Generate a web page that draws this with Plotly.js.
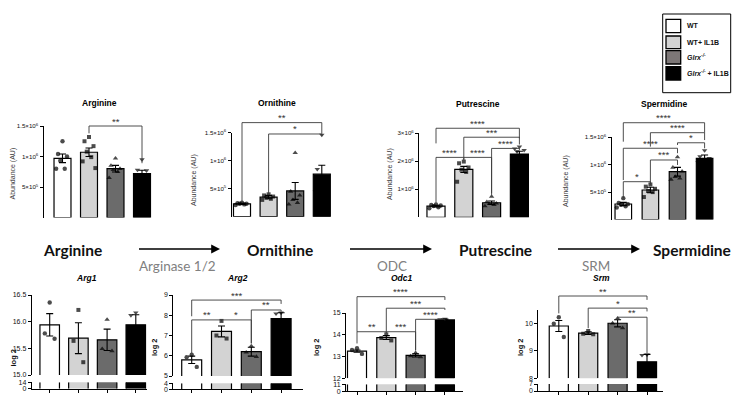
<!DOCTYPE html>
<html><head><meta charset="utf-8">
<script src="https://cdn.plot.ly/plotly-3.0.1.min.js"></script>
<style>html,body{margin:0;padding:0;background:#fff;}#chart{width:735px;height:403px;}</style>
</head><body><div id="chart"></div>
<script>
// ================= DATA =================
const groups = ['WT', 'WT+ IL1B', 'Glrx-/-', 'Glrx-/- + IL1B'];

// --- Arginine (abundance, AU)
const arginineMean = [0.97e6, 1.07e6, 0.80e6, 0.72e6];
const arginineSE   = [0.07e6, 0.07e6, 0.055e6, 0.055e6];
const arginineWT     = [1.25e6, 1.04e6, 1.00e6, 0.93e6, 0.80e6, 0.80e6];
const arginineIL1B   = [1.32e6, 1.25e6, 1.17e6, 1.08e6, 0.99e6, 0.92e6, 0.81e6];
const arginineKO     = [0.97e6, 0.85e6, 0.80e6, 0.78e6, 0.75e6, 0.65e6];
const arginineKOIL1B = [0.95e6, 0.78e6, 0.77e6, 0.65e6, 0.55e6, 0.62e6];
const arginineSig = [[1, 3, 1.5e6, 1.38e6, 0.89e6, '**']];

// --- Ornithine
const ornithineMean = [0.23e6, 0.35e6, 0.46e6, 0.76e6];
const ornithineSE   = [0.01e6, 0.03e6, 0.15e6, 0.16e6];
const ornithineWT     = [0.25e6, 0.24e6, 0.23e6, 0.23e6, 0.22e6, 0.21e6];
const ornithineIL1B   = [0.40e6, 0.38e6, 0.36e6, 0.34e6, 0.32e6, 0.30e6];
const ornithineKO     = [1.14e6, 0.45e6, 0.38e6, 0.30e6, 0.25e6, 0.22e6];
const ornithineKOIL1B = [1.46e6, 0.85e6, 0.70e6, 0.60e6, 0.50e6, 0.45e6];
const ornithineSig = [[0, 3, 1.68e6, 0.26e6, 1.48e6, '**'], [1, 3, 1.477e6, 0.41e6, 1.44e6, '*']];

// --- Putrescine
const putrescineMean = [0.40e6, 1.71e6, 0.52e6, 2.26e6];
const putrescineSE   = [0.03e6, 0.11e6, 0.06e6, 0.10e6];
const putrescineWT     = [0.46e6, 0.44e6, 0.42e6, 0.40e6, 0.36e6, 0.32e6];
const putrescineIL1B   = [1.99e6, 1.93e6, 1.78e6, 1.70e6, 1.62e6, 1.27e6];
const putrescineKO     = [0.74e6, 0.55e6, 0.50e6, 0.48e6, 0.45e6, 0.40e6];
const putrescineKOIL1B = [2.52e6, 2.45e6, 2.40e6, 2.35e6, 2.00e6, 1.85e6];
const putrescineSig = [
  [0, 3, 3.18e6, 2.64e6, 2.82e6, '****'],
  [1, 3, 2.86e6, 2.14e6, 2.60e6, '***'],
  [0, 1, 2.14e6, 0.52e6, 2.05e6, '****'],
  [1, 2, 2.14e6, 2.05e6, 0.80e6, '****'],
  [2, 3, 2.46e6, 0.86e6, 2.40e6, '****']
];

// --- Spermidine
const spermidineMean = [0.283e6, 0.538e6, 0.872e6, 1.117e6];
const spermidineSE   = [0.03e6, 0.05e6, 0.08e6, 0.06e6];
const spermidineWT     = [0.39e6, 0.30e6, 0.28e6, 0.27e6, 0.24e6, 0.22e6];
const spermidineIL1B   = [0.64e6, 0.60e6, 0.56e6, 0.52e6, 0.50e6, 0.41e6];
const spermidineKO     = [1.14e6, 0.95e6, 0.88e6, 0.78e6, 0.75e6, 0.73e6];
const spermidineKOIL1B = [1.26e6, 1.15e6, 1.12e6, 1.08e6, 1.05e6, 1.04e6];
const spermidineSig = [
  [0, 3, 1.766e6, 1.42e6, 1.584e6, '****'],
  [1, 3, 1.584e6, 1.33e6, 1.45e6, '****'],
  [0, 2, 1.30e6, 0.72e6, 1.21e6, '****'],
  [2, 3, 1.40e6, 1.36e6, 1.30e6, '*'],
  [1, 2, 1.086e6, 0.66e6, 0.995e6, '***'],
  [0, 1, 0.69e6, 0.387e6, 0.63e6, '*']
];

// --- Arg1 (log2)
const arg1Mean = [15.94, 15.69, 15.66, 15.94];
const arg1SE   = [0.21, 0.29, 0.20, 0.19];
const arg1WT     = [16.36, 15.78, 15.68];
const arg1IL1B   = [16.22, 15.64, 15.24];
const arg1KO     = [16.04, 15.49, 15.45];
const arg1KOIL1B = [16.17, 16.12, 15.55];
const arg1Sig = [];

// --- Arg2
const arg2Mean = [5.80, 7.20, 6.20, 7.84];
const arg2SE   = [0.18, 0.27, 0.22, 0.28];
const arg2WT     = [6.05, 5.93, 5.45];
const arg2IL1B   = [7.72, 7.00, 6.85];
const arg2KO     = [6.48, 6.17, 5.95];
const arg2KOIL1B = [8.12, 8.08, 7.32];
const arg2Sig = [
  [0, 3, 8.75, 7.95, 8.56, '***'],
  [2, 3, 8.26, 6.60, 8.18, '**'],
  [0, 1, 7.77, 6.12, 7.70, '**'],
  [1, 2, 7.77, 7.70, 6.62, '*']
];

// --- Odc1
const odc1Mean = [13.25, 13.87, 13.05, 14.68];
const odc1SE   = [0.05, 0.09, 0.07, 0.04];
const odc1WT     = [13.38, 13.30, 13.12];
const odc1IL1B   = [14.02, 13.85, 13.74];
const odc1KO     = [13.17, 13.02, 12.98];
const odc1KOIL1B = [14.73, 14.70, 14.62];
const odc1Sig = [
  [0, 3, 15.75, 14.14, 15.60, '****'],
  [1, 3, 15.22, 14.14, 15.14, '***'],
  [2, 3, 14.71, 13.30, 14.66, '****'],
  [0, 1, 14.14, 13.60, 14.07, '**'],
  [1, 2, 14.14, 14.07, 13.27, '***']
];

// --- Srm
const srmMean = [9.90, 9.64, 10.00, 8.60];
const srmSE   = [0.20, 0.05, 0.13, 0.27];
const srmWT     = [10.22, 9.98, 9.50];
const srmIL1B   = [9.72, 9.62, 9.60];
const srmKO     = [10.18, 10.00, 9.83];
const srmKOIL1B = [8.86, 8.84, 8.10];
const srmSig = [
  [0, 3, 10.99, 10.36, 10.85, '**'],
  [1, 3, 10.55, 9.82, 10.43, '*'],
  [2, 3, 10.22, 10.16, 8.91, '**']
];

// tick labels
const abund15Vals = [5e5, 1e6, 1.5e6];
const abund15Text = ['5×10<sup>5</sup>', '1×10<sup>6</sup>', '1.5×10<sup>6</sup>'];
const abund3Vals = [1e6, 2e6, 3e6];
const abund3Text = ['1×10<sup>6</sup>', '2×10<sup>6</sup>', '3×10<sup>6</sup>'];
const arg1Ticks = [15.0, 15.5, 16.0, 16.5];
const arg1TickText = ['15.0', '15.5', '16.0', '16.5'];
const arg1LowTicks = [0, 14];
const arg2Ticks = [5, 6, 7, 8, 9];
const arg2LowTicks = [0, 4];
const odc1Ticks = [12, 13, 14, 15];
const odc1LowTicks = [0, 11];
const srmTicks = [8, 9, 10];
const srmLowTicks = [0, 7];

// pathway
const pathwayMetabolites = ['Arginine', 'Ornithine', 'Putrescine', 'Spermidine'];
const pathwayEnzymes = ['Arginase 1/2', 'ODC', 'SRM'];

// ================= STYLE / LAYOUT =================
const W = 735, H = 403;
const FONT = 'Liberation Sans, Arial, sans-serif';
const PFONT = 'Lato, Open Sans, sans-serif';
const fills = ['#ffffff', '#d3d3d3', '#6b6b6b', '#000000'];
const symbols = ['circle', 'square', 'triangle-up', 'triangle-down'];
const msize = [4.4, 4.0, 4.8, 4.8];
const jitter = [0, -0.17, 0.17, -0.085, 0.085, -0.24, 0.24];

const panels = [
  {title:'Arginine', mean:arginineMean, se:arginineSE, pts:[arginineWT, arginineIL1B, arginineKO, arginineKOIL1B], sig:arginineSig,
   l:43.5, r:158, c0:62.5, step:26.5, bw:0.64, up:{top:126, bot:217.5, range:[0,1.5e6], vals:abund15Vals, text:abund15Text},
   tXY:[99.5,103], ylab:'Abundance (AU)', yXY:[12.5,174]},
  {title:'Ornithine', mean:ornithineMean, se:ornithineSE, pts:[ornithineWT, ornithineIL1B, ornithineKO, ornithineKOIL1B], sig:ornithineSig,
   l:231.5, r:336, c0:242, step:26.6, bw:0.64, up:{top:132.7, bot:216.7, range:[0,1.5e6], vals:abund15Vals, text:abund15Text},
   tXY:[277,103], ylab:'Abundance (AU)', yXY:[194,180]},
  {title:'Putrescine', mean:putrescineMean, se:putrescineSE, pts:[putrescineWT, putrescineIL1B, putrescineKO, putrescineKOIL1B], sig:putrescineSig,
   l:419, r:533, c0:436, step:27.8, bw:0.65, up:{top:133.3, bot:217.3, range:[0,3e6], vals:abund3Vals, text:abund3Text},
   tXY:[477.5,104], ylab:'Abundance (AU)', yXY:[390,174]},
  {title:'Spermidine', mean:spermidineMean, se:spermidineSE, pts:[spermidineWT, spermidineIL1B, spermidineKO, spermidineKOIL1B], sig:spermidineSig,
   l:611.5, r:718, c0:623.3, step:27.1, bw:0.61, up:{top:137.3, bot:219.5, range:[0,1.5e6], vals:abund15Vals, text:abund15Text},
   tXY:[664,104], ylab:'Abundance (AU)', yXY:[566,181]},
  {title:'<i>Arg1</i>', mean:arg1Mean, se:arg1SE, pts:[arg1WT, arg1IL1B, arg1KO, arg1KOIL1B], sig:arg1Sig,
   l:31.7, r:146.7, c0:49.7, step:28.7, bw:0.68, up:{top:295, bot:375, range:[15,16.5], vals:arg1Ticks, text:arg1TickText},
   low:{top:382.3, bot:388.8, range:[0,14], vals:arg1LowTicks},
   tXY:[86,278], ylab:'log 2', yXY:[12.5,358]},
  {title:'<i>Arg2</i>', mean:arg2Mean, se:arg2SE, pts:[arg2WT, arg2IL1B, arg2KO, arg2KOIL1B], sig:arg2Sig,
   l:173.3, r:303, c0:191.7, step:29.8, bw:0.67, up:{top:295, bot:376, range:[5,9], vals:arg2Ticks},
   low:{top:383.3, bot:389.3, range:[0,4], vals:arg2LowTicks},
   tXY:[237.5,278], ylab:'log 2', yXY:[154,347]},
  {title:'<i>Odc1</i>', mean:odc1Mean, se:odc1SE, pts:[odc1WT, odc1IL1B, odc1KO, odc1KOIL1B], sig:odc1Sig,
   l:346, r:463.3, c0:357, step:29.3, bw:0.65, up:{top:313, bot:378.3, range:[12,15], vals:odc1Ticks},
   low:{top:384.3, bot:391.3, range:[0,11], vals:odc1LowTicks},
   tXY:[402,278], ylab:'log 2', yXY:[316,347]},
  {title:'<i>Srm</i>', mean:srmMean, se:srmSE, pts:[srmWT, srmIL1B, srmKO, srmKOIL1B], sig:srmSig,
   l:538.3, r:663.3, c0:558.8, step:29.4, bw:0.65, up:{top:309.5, bot:378.3, range:[8,10.5], vals:srmTicks},
   low:{top:384, bot:391, range:[0,7], vals:srmLowTicks},
   tXY:[601.5,278], ylab:'log 2', yXY:[520,347]}
];

const traces = [];
const layout = {
  width: W, height: H, margin:{l:0,r:0,t:0,b:0,pad:0},
  paper_bgcolor:'#fff', plot_bgcolor:'rgba(0,0,0,0)',
  showlegend:false, barmode:'overlay', hovermode:false,
  font:{family:FONT, color:'#000'},
  shapes:[], annotations:[]
};
const key = (l, n) => n === 1 ? l + 'axis' : l + 'axis' + n;
const ref = (l, n) => n === 1 ? l : l + n;
const PX = x => x / W, PY = y => 1 - y / H;

function yAxisDef(seg, xn, isTop) {
  const a = {
    domain:[PY(seg.bot), PY(seg.top)], range:seg.range, anchor:ref('x', xn),
    tickmode:'array', tickvals:seg.vals,
    showline:true, linecolor:'#000', linewidth:1, mirror:false,
    ticks:'outside', ticklen:3, tickwidth:1, tickcolor:'#000',
    showgrid:false, zeroline:false, fixedrange:true,
    tickfont:{family:FONT, size:isTop ? 6.2 : 7, color:'#111'}
  };
  if (seg.text) a.ticktext = seg.text;
  return a;
}

let yCounter = 0;
panels.forEach((p, k) => {
  const xn = k + 1;
  const xr = [(p.l - p.c0) / p.step, (p.r - p.c0) / p.step];
  const isTop = !p.low;
  const yUp = ++yCounter;
  let yLow = null;
  if (!isTop) yLow = ++yCounter;
  const xa = {domain:[PX(p.l), PX(p.r)], range:xr, showgrid:false, zeroline:false, fixedrange:true,
    showticklabels:false, anchor:ref('y', isTop ? yUp : yLow)};
  if (isTop) { Object.assign(xa, {showline:false, ticks:''}); }
  else { Object.assign(xa, {showline:true, linecolor:'#000', linewidth:1, ticks:'outside', ticklen:3, tickwidth:1,
    tickcolor:'#000', tickmode:'array', tickvals:[0,1,2,3]}); }
  layout[key('x', xn)] = xa;
  layout[key('y', yUp)] = yAxisDef(p.up, xn, isTop);
  if (!isTop) layout[key('y', yLow)] = yAxisDef(p.low, xn, false);

  const xs = groups.map((g, i) => i);
  const hw = p.bw / 2;
  if (isTop) {
    traces.push({type:'bar', x:xs, y:p.mean, width:p.bw, xaxis:ref('x', xn), yaxis:ref('y', yUp),
      marker:{color:fills, line:{color:'#000', width:1.2}}, hoverinfo:'skip',
      error_y:{type:'data', array:p.se, visible:true, color:'#000', thickness:1.1, width:3.5}});
  } else {
    // broken axis: fills on both segments, outlines drawn as open edges
    const lo = p.up.range[0], hiL = p.low.range[1];
    traces.push({type:'bar', x:xs, y:p.mean, width:p.bw, xaxis:ref('x', xn), yaxis:ref('y', yUp),
      marker:{color:fills, line:{width:0}}, hoverinfo:'skip',
      error_y:{type:'data', array:p.se, visible:true, color:'#000', thickness:1.1, width:3.5}});
    traces.push({type:'bar', x:xs, y:p.mean, width:p.bw, xaxis:ref('x', xn), yaxis:ref('y', yLow),
      marker:{color:fills, line:{width:0}}, hoverinfo:'skip'});
    const ux = [], uy = [], lx = [], ly = [];
    xs.forEach((i) => {
      ux.push(i - hw, i - hw, i + hw, i + hw, null); uy.push(lo, p.mean[i], p.mean[i], lo, null);
      lx.push(i - hw, i - hw, null, i + hw, i + hw, null); ly.push(0, hiL, null, 0, hiL, null);
    });
    traces.push({type:'scatter', mode:'lines', x:ux, y:uy, xaxis:ref('x', xn), yaxis:ref('y', yUp),
      line:{color:'#000', width:1.2}, hoverinfo:'skip'});
    traces.push({type:'scatter', mode:'lines', x:lx, y:ly, xaxis:ref('x', xn), yaxis:ref('y', yLow),
      line:{color:'#000', width:1.2}, hoverinfo:'skip'});
  }

  const px = [], py = [], sym = [], sz = [];
  p.pts.forEach((arr, g) => arr.forEach((v, i) => {
    px.push(g + jitter[i % jitter.length]); py.push(v); sym.push(symbols[g]); sz.push(msize[g]);
  }));
  traces.push({type:'scatter', mode:'markers', x:px, y:py, xaxis:ref('x', xn), yaxis:ref('y', yUp),
    marker:{symbol:sym, size:sz, color:'#000', line:{width:0}}, hoverinfo:'skip', cliponaxis:false});

  const X = v => PX(p.l + (v - xr[0]) / (xr[1] - xr[0]) * (p.r - p.l));
  const Y = v => PY(p.up.bot - (v - p.up.range[0]) / (p.up.range[1] - p.up.range[0]) * (p.up.bot - p.up.top));
  p.sig.forEach(([i, j, lv, li, lj, txt]) => {
    const x1 = X(i), x2 = X(j), yl = Y(lv);
    layout.shapes.push({type:'path', xref:'paper', yref:'paper', layer:'above',
      path:`M${x1},${Y(li)} L${x1},${yl} L${x2},${yl} L${x2},${Y(lj)}`,
      line:{color:'#3a3a3a', width:0.9}});
    layout.annotations.push({xref:'paper', yref:'paper', x:(x1 + x2) / 2, y:yl - 2.5 / H,
      xanchor:'center', yanchor:'bottom', text:txt, showarrow:false,
      font:{family:FONT, size:9.5, color:'#333'}});
  });

  layout.annotations.push({xref:'paper', yref:'paper', x:PX(p.tXY[0]), y:PY(p.tXY[1]), xanchor:'center', yanchor:'middle',
    text:'<b>' + p.title + '</b>', showarrow:false, font:{family:FONT, size:8.5, color:'#000'}});
  layout.annotations.push({xref:'paper', yref:'paper', x:PX(p.yXY[0]), y:PY(p.yXY[1]), xanchor:'center', yanchor:'middle',
    text:isTop ? p.ylab : '<b>' + p.ylab + '</b>', textangle:-90, showarrow:false,
    font:{family:FONT, size:isTop ? 7 : 7.5, color:isTop ? '#3a3a3a' : '#111'}});
});

// pathway row
const metabX = [72, 280, 496, 698];
pathwayMetabolites.forEach((m, i) => {
  const last = i === pathwayMetabolites.length - 1;
  layout.annotations.push({xref:'paper', yref:'paper', x:PX(last ? 733 : metabX[i]), y:PY(250),
    xanchor:last ? 'right' : 'center', yanchor:'middle', text:'<b>' + m + '</b>', showarrow:false,
    font:{family:PFONT, size:15.5, color:'#111'}});
});
const arrowX = [[136, 220], [347, 432], [555, 640]];
const enzX = [177, 392, 596];
pathwayEnzymes.forEach((e, i) => {
  layout.annotations.push({xref:'paper', yref:'paper', axref:'paper', ayref:'paper', x:PX(arrowX[i][1]), y:PY(249),
    ax:PX(arrowX[i][0]), ay:PY(249), text:' ', showarrow:true, arrowhead:2, arrowsize:1.1, arrowwidth:1.6, arrowcolor:'#000', standoff:0, startstandoff:0});
  layout.annotations.push({xref:'paper', yref:'paper', x:PX(enzX[i]), y:PY(266), xanchor:'center', yanchor:'middle',
    text:e, showarrow:false, font:{family:PFONT, size:13.5, color:'#808080'}});
});

// legend
layout.shapes.push({type:'rect', xref:'paper', yref:'paper', x0:PX(662.7), x1:PX(730.7), y0:PY(92.7), y1:PY(14),
  line:{color:'#000', width:1}, fillcolor:'#fff', layer:'below'});
const legRows = [[19.3, 32.7], [36, 48.7], [50.7, 64], [66.7, 80]];
const legText = ['<b>WT</b>', '<b>WT+ IL1B</b>', '<b><i>Glrx</i><sup><i>-/-</i></sup></b>', '<b><i>Glrx</i><sup><i>-/-</i></sup> + IL1B</b>'];
groups.forEach((g, i) => {
  layout.shapes.push({type:'rect', xref:'paper', yref:'paper', x0:PX(666), x1:PX(680.7), y0:PY(legRows[i][1]), y1:PY(legRows[i][0]),
    line:{color:'#000', width:1.3}, fillcolor:i === 2 ? '#7d7777' : fills[i]});
  layout.annotations.push({xref:'paper', yref:'paper', x:PX(685), y:PY((legRows[i][0] + legRows[i][1]) / 2), xanchor:'left', yanchor:'middle',
    text:legText[i], showarrow:false, font:{family:FONT, size:7, color:'#111'}});
});

Plotly.newPlot('chart', traces, layout, {staticPlot:true, displayModeBar:false});
</script></body></html>
